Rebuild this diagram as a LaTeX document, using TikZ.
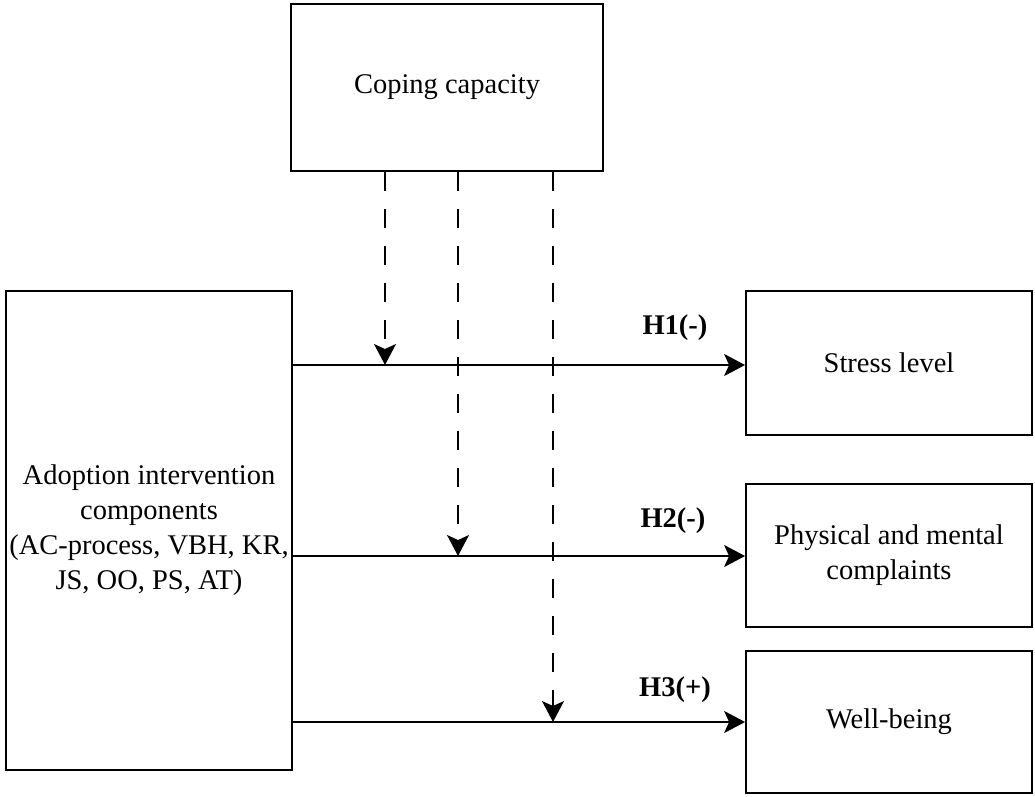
\documentclass[tikz,border=0pt]{standalone}
\usepackage{fontspec}
\setmainfont{Liberation Serif}
\usetikzlibrary{arrows.meta}
\begin{document}
\begin{tikzpicture}[x=1pt,y=-1pt,
  box/.style={draw,line width=1.8pt,inner sep=0pt,align=center,font=\fontsize{28.5}{35}\selectfont},
  conn/.style={line width=1.6pt,-{Stealth[length=21pt,width=22pt,inset=5pt]}},
  dconn/.style={conn,dash pattern=on 19pt off 18pt},
  hlab/.style={font=\fontsize{28.5}{33}\selectfont\bfseries}]
\useasboundingbox (0,0) rectangle (1035,796);
\node[box,minimum width=312pt,minimum height=167pt] (C) at (447,87.5) {Coping capacity};
\node[box,minimum width=286pt,minimum height=479pt] (L) at (149,530.5) {Adoption intervention\\components\\(AC-process, VBH, KR,\\JS, OO, PS, AT)};
\node[box,minimum width=286pt,minimum height=144pt] (S) at (889,363) {Stress level};
\node[box,minimum width=286pt,minimum height=143pt] (P) at (889,555.5) {Physical and mental\\complaints};
\node[box,minimum width=286pt,minimum height=142pt] (W) at (889,722) {Well-being};
\coordinate (m1) at (385,365);
\coordinate (m2) at (458,556);
\coordinate (m3) at (553,722);
\draw[conn] (L.east |- m1) -- (S.west |- m1);
\draw[conn] (L.east |- m2) -- (P.west |- m2);
\draw[conn] (L.east |- m3) -- (W.west |- m3);
\draw[dconn] (C.south -| m1) -- (m1);
\draw[dconn] (C.south -| m2) -- (m2);
\draw[dconn] (C.south -| m3) -- (m3);
\node[hlab] (h1) at (675,328) {H1(-)};
\node[hlab] (h2) at (673,521) {H2(-)};
\node[hlab] (h3) at (675,690) {H3(+)};
\end{tikzpicture}
\end{document}
